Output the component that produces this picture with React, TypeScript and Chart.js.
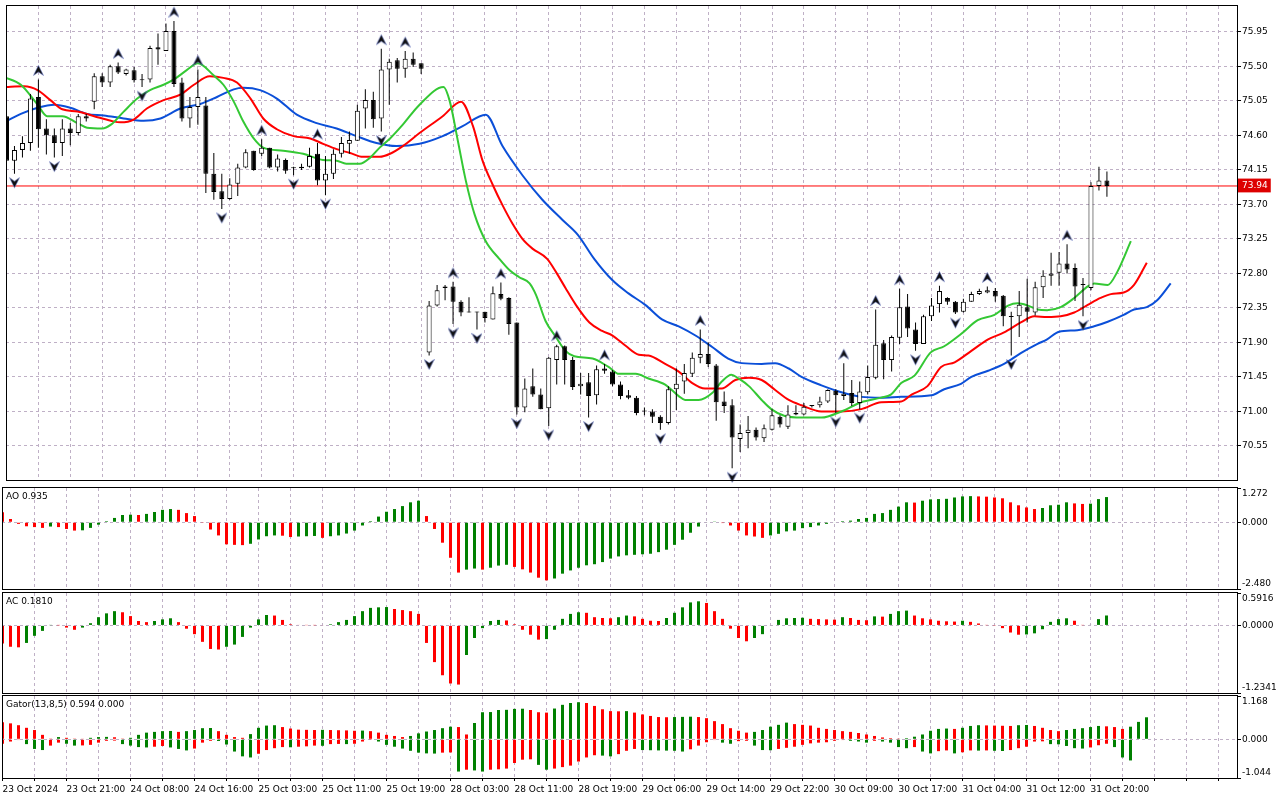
import { useEffect, useRef } from 'react';
import { Chart, registerables } from 'chart.js';

Chart.register(...registerables);

// hourly bars, 23 Oct 2024 13:00 .. 31 Oct 2024 21:00
const opens = [
  74.85, 74.27, 74.41, 74.5, 75.1, 74.69, 74.6, 74.5, 74.69, 74.63,
  74.85, 75.04, 75.37, 75.29, 75.5, 75.4, 75.45, 75.33, 75.33, 75.75,
  75.7, 75.96, 75.29, 74.82, 74.97, 74.99, 74.1, 73.87, 73.77, 73.97,
  74.18, 74.4, 74.36, 74.44, 74.18, 74.28, 74.17, 74.17, 74.19, 74.36,
  74.01, 74.1, 74.36, 74.49, 74.53, 74.95, 75.06, 74.82, 75.46, 75.58,
  75.47, 75.6, 75.54, 71.77, 72.38, 72.61, 72.63, 72.43, 72.29, 72.3,
  72.3, 72.2, 72.53, 72.48, 72.16, 71.05, 71.33, 71.22, 71.04, 71.67,
  71.85, 71.67, 71.33, 71.38, 71.21, 71.56, 71.52, 71.35, 71.21, 71.18,
  71.0, 71.0, 70.93, 70.85, 71.29, 71.39, 71.49, 71.7, 71.75, 71.6,
  71.13, 71.08, 70.64, 70.72, 70.76, 70.65, 70.76, 70.93, 70.8, 70.96,
  70.96, 71.07, 71.08, 71.13, 71.27, 71.2, 71.24, 71.11, 71.25, 71.44,
  71.89, 71.67, 71.96, 72.37, 72.07, 71.88, 72.24, 72.4, 72.48, 72.43,
  72.3, 72.43, 72.53, 72.55, 72.57, 72.51, 72.24, 72.24, 72.36, 72.29,
  72.62, 72.77, 72.81, 72.93, 72.87, 72.65, 72.61, 73.94, 74.01,
];
const highs = [
  74.94, 74.46, 74.59, 75.14, 75.33, 74.81, 74.69, 74.81, 74.76, 74.88,
  74.88, 75.41, 75.41, 75.52, 75.55, 75.47, 75.49, 75.4, 75.77, 75.93,
  76.06, 76.09, 75.35, 75.1, 75.46, 75.1, 74.37, 74.1, 74.04, 74.23,
  74.42, 74.4, 74.55, 74.44, 74.35, 74.3, 74.19, 74.23, 74.44, 74.5,
  74.33, 74.42, 74.58, 74.65, 75.0, 75.2, 75.17, 75.73, 75.6, 75.61,
  75.7, 75.68, 75.54, 72.44, 72.65, 72.65, 72.69, 72.45, 72.49, 72.3,
  72.3, 72.63, 72.68, 72.49, 72.16, 71.43, 71.56, 71.3, 71.71, 71.87,
  71.86, 71.71, 71.5, 71.5, 71.6, 71.62, 71.54, 71.39, 71.28, 71.2,
  71.05, 71.03, 70.95, 71.33, 71.56, 71.62, 71.77, 72.07, 71.9, 71.62,
  71.26, 71.16, 70.83, 70.94, 70.79, 70.83, 71.03, 70.95, 71.08, 71.08,
  71.11, 71.08, 71.19, 71.29, 71.29, 71.63, 71.41, 71.39, 71.6, 72.33,
  71.93, 71.99, 72.6, 72.53, 72.16, 72.26, 72.48, 72.64, 72.49, 72.44,
  72.47, 72.56, 72.6, 72.63, 72.61, 72.52, 72.3, 72.57, 72.73, 72.69,
  72.84, 73.07, 73.08, 73.18, 72.93, 72.74, 73.99, 74.19, 74.13,
];
const lows = [
  74.21, 74.1, 74.31, 74.4, 74.44, 74.35, 74.31, 74.33, 74.47, 74.6,
  74.78, 74.94, 75.23, 75.23, 75.4, 75.38, 75.29, 75.23, 75.29, 75.52,
  75.7, 75.23, 74.78, 74.7, 74.74, 73.85, 73.76, 73.64, 73.76, 73.81,
  74.17, 74.14, 74.33, 74.17, 74.13, 74.1, 74.08, 74.15, 74.18, 73.95,
  73.82, 74.03, 74.31, 74.36, 74.53, 74.69, 74.7, 74.65, 75.0, 75.29,
  75.35, 75.49, 75.4, 71.73, 72.37, 72.45, 72.14, 72.24, 72.29, 72.07,
  72.16, 72.2, 72.45, 72.0, 70.96, 70.99, 71.19, 71.03, 70.81, 71.35,
  71.35, 71.28, 71.22, 70.92, 71.09, 71.49, 71.33, 71.16, 71.16, 70.95,
  70.95, 70.85, 70.76, 70.83, 71.02, 71.23, 71.45, 71.63, 71.58, 70.88,
  70.98, 70.26, 70.47, 70.52, 70.62, 70.6, 70.75, 70.79, 70.77, 70.95,
  70.95, 71.05, 71.05, 71.11, 70.98, 71.15, 71.07, 71.03, 71.22, 71.42,
  71.42, 71.52, 71.88, 71.97, 71.79, 71.88, 72.18, 72.29, 72.39, 72.27,
  72.29, 72.43, 72.52, 72.54, 72.43, 72.11, 71.73, 71.97, 72.16, 72.25,
  72.48, 72.64, 72.64, 72.8, 72.44, 72.24, 72.58, 73.88, 73.8,
];
const closes = [
  74.27, 74.41, 74.5, 75.08, 74.68, 74.6, 74.5, 74.69, 74.63, 74.85,
  74.82, 75.37, 75.29, 75.5, 75.42, 75.46, 75.32, 75.32, 75.74, 75.72,
  75.96, 75.27, 74.82, 74.97, 75.1, 74.1, 73.86, 73.77, 73.96, 74.18,
  74.38, 74.15, 74.44, 74.18, 74.3, 74.14, 74.17, 74.19, 74.33, 74.01,
  74.1, 74.36, 74.5, 74.54, 74.92, 75.06, 74.81, 75.46, 75.56, 75.47,
  75.6, 75.52, 75.47, 72.38, 72.58, 72.63, 72.43, 72.29, 72.29, 72.29,
  72.22, 72.54, 72.47, 72.14, 71.05, 71.3, 71.22, 71.03, 71.7, 71.85,
  71.67, 71.32, 71.36, 71.2, 71.55, 71.53, 71.35, 71.2, 71.18, 70.98,
  71.0, 70.93, 70.85, 71.29, 71.36, 71.5, 71.7, 71.75, 71.62, 71.12,
  71.07, 70.66, 70.72, 70.76, 70.66, 70.78, 70.95, 70.83, 70.96, 70.98,
  71.06, 71.08, 71.13, 71.28, 71.21, 71.23, 71.11, 71.26, 71.45, 71.87,
  71.67, 71.97, 72.36, 72.08, 71.88, 72.24, 72.38, 72.57, 72.43, 72.29,
  72.43, 72.53, 72.57, 72.58, 72.5, 72.24, 72.23, 72.39, 72.3, 72.62,
  72.77, 72.8, 72.93, 72.85, 72.63, 72.65, 73.94, 74.01, 73.94,
];

// Alligator lines: [bar, price]
const jaw: [number, number][] = [
  [-0.3, 74.77], [1.8, 74.88], [3.9, 74.96], [6.0, 75.0], [8.0, 74.96], [10.1, 74.88], [12.2, 74.86],
  [14.7, 74.82], [17.2, 74.79], [19.3, 74.82], [21.8, 74.95], [24.3, 75.01], [26.4, 75.1], [28.5, 75.2],
  [29.7, 75.22], [31.8, 75.19], [33.9, 75.08], [36.4, 74.87], [38.9, 74.76], [41.4, 74.69], [43.9, 74.59],
  [46.4, 74.5], [48.9, 74.46], [51.8, 74.49], [54.7, 74.59], [57.2, 74.72], [60.1, 74.87], [62.2, 74.46],
  [64.7, 74.08], [67.2, 73.76], [69.7, 73.5], [71.6, 73.31], [73.7, 72.99], [76.0, 72.71], [78.0, 72.54],
  [80.1, 72.39], [82.2, 72.2], [84.3, 72.11], [86.4, 71.99], [88.5, 71.84], [90.5, 71.69], [92.2, 71.63],
  [94.7, 71.62], [96.4, 71.63], [98.1, 71.56], [99.7, 71.45], [102.2, 71.34], [104.7, 71.25], [107.2, 71.19],
  [109.7, 71.18], [112.2, 71.19], [116.0, 71.21], [117.6, 71.29], [119.7, 71.36], [121.0, 71.45],
  [123.1, 71.53], [125.1, 71.62], [127.2, 71.76], [129.3, 71.88], [130.5, 71.94], [132.0, 72.04],
  [134.3, 72.06], [136.4, 72.11], [138.1, 72.17], [140.1, 72.26], [141.4, 72.33], [143.0, 72.36],
  [144.3, 72.45], [146.0, 72.67],
];
const teeth: [number, number][] = [
  [-0.3, 75.23], [2.2, 75.24], [3.9, 75.19], [5.5, 75.06], [7.0, 74.94], [8.9, 74.91], [11.0, 74.85],
  [13.1, 74.79], [14.3, 74.77], [16.0, 74.81], [17.6, 74.95], [19.7, 75.06], [21.8, 75.13], [23.5, 75.26],
  [25.5, 75.37], [27.2, 75.35], [28.9, 75.29], [30.6, 75.08], [32.2, 74.82], [33.9, 74.68], [36.0, 74.59],
  [38.1, 74.56], [39.7, 74.49], [41.4, 74.42], [43.1, 74.37], [44.7, 74.32], [46.8, 74.32], [48.1, 74.36],
  [49.7, 74.46], [51.8, 74.63], [54.7, 74.85], [57.0, 75.04], [58.5, 74.72], [59.7, 74.27], [61.0, 73.95],
  [62.2, 73.69], [63.5, 73.44], [64.7, 73.25], [66.0, 73.12], [67.8, 72.99], [68.9, 72.82], [70.1, 72.61],
  [71.4, 72.39], [73.1, 72.16], [74.7, 72.05], [76.0, 71.99], [77.6, 71.86], [79.3, 71.74], [80.5, 71.73],
  [82.6, 71.62], [84.3, 71.52], [86.0, 71.37], [87.6, 71.3], [89.7, 71.3], [91.4, 71.41], [93.1, 71.44],
  [94.7, 71.41], [96.4, 71.28], [98.1, 71.15], [99.7, 71.08], [102.2, 71.0], [104.7, 71.0], [107.2, 71.03],
  [109.7, 71.12], [112.2, 71.13], [113.5, 71.22], [115.5, 71.33], [117.2, 71.58], [118.9, 71.64],
  [121.0, 71.79], [123.1, 71.94], [125.1, 72.03], [127.2, 72.16], [128.9, 72.24], [130.5, 72.23],
  [132.2, 72.24], [133.9, 72.29], [135.6, 72.39], [137.2, 72.48], [138.5, 72.53], [140.1, 72.55],
  [141.4, 72.65], [143.0, 72.94],
];
const lips: [number, number][] = [
  [-0.3, 75.36], [1.8, 75.26], [3.9, 75.0], [5.1, 74.85], [7.0, 74.85], [8.9, 74.76], [10.1, 74.7],
  [12.0, 74.69], [13.1, 74.74], [14.7, 74.91], [16.4, 75.08], [18.0, 75.19], [19.7, 75.26], [21.0, 75.33],
  [22.6, 75.45], [24.0, 75.54], [26.0, 75.38], [27.2, 75.26], [28.5, 75.04], [29.7, 74.78], [31.0, 74.56],
  [32.2, 74.44], [34.7, 74.4], [37.2, 74.36], [39.7, 74.28], [41.4, 74.27], [42.6, 74.23], [44.3, 74.23],
  [45.6, 74.31], [46.8, 74.44], [48.1, 74.56], [49.7, 74.74], [51.8, 75.0], [54.8, 75.23], [55.6, 75.04],
  [56.6, 74.53], [57.6, 74.01], [58.7, 73.57], [60.1, 73.22], [61.8, 72.99], [63.1, 72.84], [64.3, 72.75],
  [65.6, 72.67], [66.4, 72.52], [67.6, 72.18], [68.9, 71.97], [70.1, 71.79], [71.2, 71.72], [73.5, 71.69],
  [75.5, 71.58], [76.8, 71.49], [78.9, 71.49], [80.5, 71.43], [82.6, 71.35], [84.3, 71.2], [85.1, 71.15],
  [86.8, 71.15], [88.5, 71.24], [89.7, 71.39], [90.9, 71.48], [91.8, 71.43], [93.1, 71.33], [94.7, 71.15],
  [95.9, 71.03], [97.6, 70.94], [99.7, 70.92], [102.2, 70.92], [104.7, 71.0], [107.2, 71.12], [109.7, 71.18],
  [110.9, 71.22], [112.2, 71.37], [113.9, 71.47], [115.9, 71.77], [117.6, 71.85], [119.7, 72.01],
  [121.8, 72.19], [123.9, 72.26], [125.6, 72.38], [126.8, 72.41], [128.1, 72.38], [129.3, 72.33],
  [130.5, 72.32], [132.2, 72.36], [133.9, 72.48], [135.6, 72.63], [136.4, 72.67], [138.1, 72.65],
  [139.3, 72.82], [141.0, 73.22],
];

// Bill Williams fractals (bar indexes)
const fractalUp = [4, 14, 21, 24, 32, 39, 47, 50, 56, 62, 69, 75, 87, 105, 109, 112, 117, 123, 133];
const fractalDown = [1, 6, 17, 27, 36, 40, 47, 53, 56, 59, 64, 68, 73, 82, 91, 104, 107, 114, 119, 126, 135];

const ao = [
  0.37, 0.12, -0.06, -0.15, -0.18, -0.21, -0.16, -0.18, -0.25, -0.31,
  -0.3, -0.21, -0.09, 0.04, 0.16, 0.27, 0.28, 0.27, 0.31, 0.38,
  0.46, 0.49, 0.46, 0.34, 0.23, -0.01, -0.27, -0.49, -0.82, -0.84,
  -0.85, -0.8, -0.64, -0.52, -0.49, -0.5, -0.55, -0.53, -0.52, -0.51,
  -0.58, -0.52, -0.49, -0.42, -0.31, -0.12, 0.04, 0.21, 0.39, 0.49,
  0.6, 0.74, 0.8, 0.23, -0.25, -0.76, -1.32, -1.87, -1.76, -1.72,
  -1.76, -1.69, -1.61, -1.58, -1.66, -1.75, -1.87, -2.06, -2.16, -2.09,
  -1.91, -1.79, -1.69, -1.6, -1.56, -1.48, -1.35, -1.27, -1.23, -1.21,
  -1.19, -1.17, -1.11, -1.02, -0.84, -0.65, -0.39, -0.16, -0.02, 0.01,
  -0.03, -0.12, -0.31, -0.49, -0.53, -0.58, -0.49, -0.43, -0.34, -0.31,
  -0.22, -0.18, -0.12, -0.06, -0.02, 0.04, 0.06, 0.12, 0.16, 0.31,
  0.34, 0.46, 0.58, 0.74, 0.73, 0.8, 0.85, 0.86, 0.87, 0.92,
  0.96, 0.97, 0.96, 0.95, 0.92, 0.89, 0.74, 0.63, 0.55, 0.49,
  0.53, 0.63, 0.65, 0.74, 0.7, 0.68, 0.69, 0.86, 0.935,
];
const ac = [
  -0.33, -0.39, -0.4, -0.32, -0.19, -0.1, 0.005, 0.003, -0.04, -0.08,
  -0.04, 0.04, 0.15, 0.22, 0.26, 0.24, 0.17, 0.08, 0.06, 0.08,
  0.11, 0.13, 0.06, -0.06, -0.16, -0.3, -0.43, -0.44, -0.39, -0.35,
  -0.21, -0.04, 0.11, 0.19, 0.18, 0.1, 0.02, 0.01, 0.005, 0.004,
  -0.01, 0.02, 0.06, 0.1, 0.17, 0.26, 0.32, 0.33, 0.335, 0.3,
  0.28, 0.26, 0.21, -0.32, -0.67, -0.91, -1.06, -1.08, -0.54, -0.23,
  -0.05, 0.08, 0.1, 0.09, 0.02, -0.08, -0.17, -0.26, -0.25, -0.08,
  0.12, 0.21, 0.24, 0.23, 0.15, 0.135, 0.13, 0.15, 0.18, 0.165,
  0.12, 0.085, 0.08, 0.135, 0.23, 0.33, 0.42, 0.44, 0.41, 0.26,
  0.12, -0.06, -0.23, -0.29, -0.23, -0.16, -0.01, 0.1, 0.13, 0.135,
  0.14, 0.12, 0.115, 0.11, 0.105, 0.15, 0.135, 0.1, 0.095, 0.165,
  0.16, 0.21, 0.26, 0.27, 0.18, 0.13, 0.11, 0.085, 0.075, 0.07,
  0.085, 0.065, 0.035, 0.005, -0.005, -0.05, -0.13, -0.17, -0.165, -0.145,
  -0.07, 0.065, 0.115, 0.13, 0.085, 0.005, 0.01, 0.115, 0.181,
];
const gatorUpper = [
  0.46, 0.43, 0.38, 0.31, 0.25, 0.12, 0.02, 0.06, 0.04, 0.02,
  0.01, 0.04, 0.06, 0.065, 0.055, 0.02, 0.04, 0.12, 0.18, 0.2,
  0.22, 0.225, 0.2, 0.22, 0.25, 0.3, 0.305, 0.22, 0.12, 0.06,
  0.04, 0.14, 0.31, 0.37, 0.38, 0.33, 0.29, 0.26, 0.255, 0.25,
  0.255, 0.25, 0.245, 0.24, 0.23, 0.235, 0.22, 0.18, 0.12, 0.09,
  0.06, 0.09, 0.16, 0.21, 0.25, 0.3, 0.34, 0.33, 0.13, 0.44,
  0.73, 0.735, 0.79, 0.795, 0.82, 0.825, 0.79, 0.73, 0.72, 0.83,
  0.93, 0.98, 1.0, 0.98, 0.9, 0.81, 0.76, 0.755, 0.76, 0.72,
  0.67, 0.63, 0.6, 0.595, 0.6, 0.605, 0.61, 0.6, 0.57, 0.49,
  0.41, 0.3, 0.23, 0.18, 0.2, 0.25, 0.34, 0.39, 0.45, 0.41,
  0.39, 0.37, 0.31, 0.28, 0.25, 0.22, 0.2, 0.17, 0.13, 0.09,
  0.05, 0.03, 0.005, 0.03, 0.07, 0.13, 0.23, 0.28, 0.29, 0.28,
  0.31, 0.36, 0.38, 0.375, 0.37, 0.365, 0.36, 0.38, 0.385, 0.36,
  0.31, 0.25, 0.22, 0.25, 0.28, 0.3, 0.33, 0.36, 0.35, 0.33,
  0.28, 0.34, 0.47, 0.594,
];
const gatorLower = [
  0.12, 0.06, 0.02, 0.13, 0.26, 0.29, 0.17, 0.09, 0.12, 0.17,
  0.165, 0.15, 0.09, 0.04, 0.035, 0.13, 0.17, 0.21, 0.22, 0.2,
  0.18, 0.22, 0.26, 0.3, 0.25, 0.09, 0.04, 0.045, 0.14, 0.33,
  0.46, 0.49, 0.39, 0.29, 0.24, 0.21, 0.215, 0.2, 0.19, 0.17,
  0.175, 0.13, 0.125, 0.13, 0.12, 0.06, 0.005, 0.06, 0.15, 0.2,
  0.25, 0.31, 0.36, 0.38, 0.385, 0.36, 0.355, 0.87, 0.82, 0.84,
  0.87, 0.82, 0.81, 0.79, 0.64, 0.55, 0.54, 0.69, 0.82, 0.79,
  0.75, 0.71, 0.6, 0.49, 0.43, 0.44, 0.46, 0.4, 0.31, 0.26,
  0.29, 0.295, 0.3, 0.305, 0.31, 0.33, 0.27, 0.17, 0.08, 0.02,
  0.09, 0.12, 0.05, 0.04, 0.17, 0.29, 0.295, 0.26, 0.23, 0.2,
  0.15, 0.11, 0.09, 0.08, 0.04, 0.02, 0.04, 0.06, 0.09, 0.04,
  0.06, 0.09, 0.21, 0.24, 0.21, 0.33, 0.38, 0.32, 0.3, 0.38,
  0.35, 0.3, 0.305, 0.3, 0.31, 0.315, 0.29, 0.24, 0.2, 0.06,
  0.055, 0.13, 0.135, 0.18, 0.24, 0.25, 0.22, 0.16, 0.12, 0.21,
  0.49, 0.57,
];

const priceTicks = [70.55, 71.0, 71.45, 71.9, 72.35, 72.8, 73.25, 73.7, 74.15, 74.6, 75.05, 75.5, 75.95];
const priceRange = [70.106, 76.287];
const aoRange = [-2.48, 1.272];
const acRange = [-1.2341, 0.5916];
const gatorRange = [-1.044, 1.168];
const timeLabels = [
  '23 Oct 2024', '23 Oct 21:00', '24 Oct 08:00', '24 Oct 16:00', '25 Oct 03:00', '25 Oct 11:00',
  '25 Oct 19:00', '28 Oct 03:00', '28 Oct 11:00', '28 Oct 19:00', '29 Oct 06:00', '29 Oct 14:00',
  '29 Oct 22:00', '30 Oct 09:00', '30 Oct 17:00', '31 Oct 04:00', '31 Oct 12:00', '31 Oct 20:00',
];

const FONT = { family: 'DejaVu Sans', size: 9 };
const GRID = '#bfb0c6';
const UP = '#008000';
const DOWN = '#ff0000';
const X_MIN = -0.0625;
const X_MAX = X_MIN + 1235 / 8;
const lastClose = closes[closes.length - 1];

function barColors(vals: number[]) {
  return vals.map((v, i) => (i > 0 && Math.abs(v) > Math.abs(vals[i - 1]) ? UP : DOWN));
}
function signedColors(vals: number[]) {
  return vals.map((v, i) => (i > 0 && v > vals[i - 1] ? UP : DOWN));
}

function xAxis(withLabels: boolean) {
  return {
    type: 'linear',
    min: X_MIN,
    max: X_MAX,
    offset: false,
    bounds: 'data',
    afterBuildTicks: (s: any) => {
      const t = [];
      for (let v = 0; v <= X_MAX; v += 4) t.push({ value: v });
      s.ticks = t;
    },
    afterFit: (s: any) => {
      s.height = withLabels ? 22 : 0;
      s.paddingLeft = 0;
      s.paddingRight = 0;
    },
    grid: {
      offset: false,
      color: (c: any) => (c.tick && c.tick.value > 0 ? GRID : 'transparent'),
      drawTicks: withLabels,
      tickLength: 3,
      tickColor: '#000',
      tickBorderDash: [],
    },
    border: { display: false, dash: [3, 3] },
    ticks: {
      display: withLabels,
      autoSkip: false,
      maxRotation: 0,
      minRotation: 0,
      align: 'start',
      padding: 3,
      color: '#000',
      font: FONT,
      callback: (v: number) => (v % 8 === 0 && timeLabels[v / 8]) || '',
    },
  };
}

function yAxis(range: number[], ticks: number[], label: (v: number) => string | string[], gridAt: (v: number) => boolean, extraTicks: any = {}) {
  return {
    type: 'linear',
    position: 'right',
    min: range[0],
    max: range[1],
    bounds: 'data',
    afterBuildTicks: (s: any) => {
      s.ticks = ticks.map((v) => ({ value: v }));
    },
    afterFit: (s: any) => {
      s.width = 43;
      s.paddingTop = 0;
      s.paddingBottom = 0;
    },
    grid: {
      color: (c: any) => (c.tick && gridAt(c.tick.value) ? GRID : 'transparent'),
      tickLength: 4,
      tickColor: '#000',
      tickBorderDash: [],
    },
    border: { display: false, dash: [3, 3] },
    ticks: { autoSkip: false, padding: 1, font: FONT, color: '#000', callback: (v: number) => label(v), ...extraTicks },
  };
}

const framePlugin = {
  id: 'frame',
  afterDraw(chart: any) {
    const { ctx, chartArea: a } = chart;
    ctx.save();
    ctx.strokeStyle = '#000';
    ctx.lineWidth = 1;
    ctx.strokeRect(a.left + 0.5, a.top - 0.5, a.right - a.left, a.bottom - a.top + 1);
    ctx.restore();
  },
};

function titlePlugin(text: string) {
  return {
    id: 'panelTitle',
    afterDraw(chart: any) {
      const { ctx, chartArea: a } = chart;
      ctx.save();
      ctx.fillStyle = '#000';
      ctx.font = `${FONT.size}px "${FONT.family}"`;
      ctx.textBaseline = 'middle';
      ctx.fillText(text, a.left + 4, a.top + 8.5);
      ctx.restore();
    },
  };
}

// fractal arrowhead, drawn 4px clear of the bar's high (up) or low (down)
function arrowImage(up: boolean) {
  const c = document.createElement('canvas');
  c.width = 11;
  c.height = 31;
  const g = c.getContext('2d')!;
  const tip = up ? 1.5 : 29.5;
  const base = up ? 11.5 : 19.5;
  const notch = up ? 8 : 23;
  g.beginPath();
  g.moveTo(5.5, tip);
  g.lineTo(10.5, base);
  g.lineTo(5.5, notch);
  g.lineTo(0.5, base);
  g.closePath();
  g.fillStyle = '#101010';
  g.fill();
  g.strokeStyle = 'rgba(90,110,200,0.75)';
  g.lineWidth = 0.7;
  g.stroke();
  return c;
}

function baseOptions(y: any, withLabels: boolean, padTop: number, padBottom: number) {
  return {
    responsive: false,
    animation: false,
    events: [],
    layout: { padding: { top: padTop, bottom: padBottom, left: 2, right: 0 } },
    plugins: { legend: { display: false }, tooltip: { enabled: false } },
    scales: { x: xAxis(withLabels), y },
  };
}

function histogram(vals: number[], colors: string[]) {
  return {
    type: 'bar',
    data: vals.map((v, i) => ({ x: i, y: v })),
    backgroundColor: colors,
    barThickness: 3,
    grouped: false,
    inflateAmount: 0,
    borderWidth: 0,
  };
}

export default function App() {
  const mainRef = useRef<HTMLCanvasElement | null>(null);
  const aoRef = useRef<HTMLCanvasElement | null>(null);
  const acRef = useRef<HTMLCanvasElement | null>(null);
  const gatorRef = useRef<HTMLCanvasElement | null>(null);

  useEffect(() => {
    if (!mainRef.current || !aoRef.current || !acRef.current || !gatorRef.current) return;
    const idx = closes.map((_, i) => i);
    const pts = (p: [number, number][]) => p.map(([x, y]) => ({ x, y }));
    const line = (p: [number, number][], color: string, order: number) => ({
      type: 'line',
      data: pts(p),
      borderColor: color,
      borderWidth: 2,
      pointRadius: 0,
      cubicInterpolationMode: 'monotone',
      order,
    });

    const main = new Chart(mainRef.current, {
      type: 'bar',
      data: {
        datasets: [
          {
            type: 'line',
            data: [{ x: X_MIN, y: lastClose }, { x: X_MAX, y: lastClose }],
            borderColor: '#ff0000',
            borderWidth: 1,
            pointRadius: 0,
            order: 12,
          },
          line(jaw, '#0b4fd8', 11),
          line(teeth, '#ff0000', 10),
          line(lips, '#34c834', 9),
          {
            type: 'bar',
            data: idx.map((i) => ({ x: i, y: [lows[i], highs[i]] })),
            backgroundColor: '#000',
            barThickness: 1,
            grouped: false,
            inflateAmount: 0,
            order: 4,
          },
          {
            type: 'bar',
            data: idx.map((i) => {
              const lo = Math.min(opens[i], closes[i]);
              const hi = Math.max(opens[i], closes[i]);
              return { x: i, y: [lo, Math.max(hi, lo + 0.013)] };
            }),
            backgroundColor: idx.map((i) => (closes[i] > opens[i] ? '#fff' : '#000')),
            borderColor: '#000',
            borderWidth: 1,
            borderSkipped: false,
            barThickness: 5,
            grouped: false,
            inflateAmount: 0,
            order: 3,
          },
          {
            type: 'line',
            data: fractalUp.map((i) => ({ x: i, y: highs[i] })),
            showLine: false,
            pointStyle: arrowImage(true),
            pointRadius: 5,
            clip: false,
            order: 1,
          },
          {
            type: 'line',
            data: fractalDown.map((i) => ({ x: i, y: lows[i] })),
            showLine: false,
            pointStyle: arrowImage(false),
            pointRadius: 5,
            clip: false,
            order: 1,
          },
        ],
      } as any,
      options: baseOptions(
        yAxis(
          priceRange,
          [...priceTicks, lastClose].sort((a, b) => a - b),
          (v) => v.toFixed(2),
          (v) => v !== lastClose,
          {
            color: (c: any) => (c.tick && c.tick.value === lastClose ? '#fff' : '#000'),
            showLabelBackdrop: (c: any) => !!c.tick && c.tick.value === lastClose,
            backdropColor: '#dd0000',
            backdropPadding: { top: 2, bottom: 1, left: 4, right: 3 },
          },
        ),
        false,
        3,
        1,
      ) as any,
      plugins: [framePlugin],
    });

    const aoChart = new Chart(aoRef.current, {
      type: 'bar',
      data: { datasets: [histogram(ao, signedColors(ao))] } as any,
      options: baseOptions(
        yAxis(aoRange, [aoRange[0], 0, aoRange[1]], (v) =>
          v === aoRange[1] ? ['', v.toFixed(3)] : v === aoRange[0] ? [v.toFixed(3), ''] : v.toFixed(3),
          (v) => v === 0),
        false,
        2,
        2,
      ) as any,
      plugins: [framePlugin, titlePlugin(`AO ${ao[ao.length - 1].toFixed(3)}`)],
    });

    const acChart = new Chart(acRef.current, {
      type: 'bar',
      data: { datasets: [histogram(ac, signedColors(ac))] } as any,
      options: baseOptions(
        yAxis(acRange, [acRange[0], 0, acRange[1]], (v) =>
          v === acRange[1] ? ['', v.toFixed(4)] : v === acRange[0] ? [v.toFixed(4), ''] : v.toFixed(4),
          (v) => v === 0),
        false,
        2,
        2,
      ) as any,
      plugins: [framePlugin, titlePlugin(`AC ${ac[ac.length - 1].toFixed(4)}`)],
    });

    const gatorChart = new Chart(gatorRef.current, {
      type: 'bar',
      data: {
        datasets: [
          histogram(gatorUpper, barColors(gatorUpper)),
          histogram(gatorLower.map((v) => -v), barColors(gatorLower)),
        ],
      } as any,
      options: baseOptions(
        yAxis(gatorRange, [gatorRange[0], 0, gatorRange[1]], (v) =>
          v === gatorRange[1] ? ['', v.toFixed(3)] : v === gatorRange[0] ? [v.toFixed(3), ''] : v.toFixed(3),
          (v) => v === 0),
        true,
        2,
        0,
      ) as any,
      plugins: [framePlugin, titlePlugin(`Gator(13,8,5) ${gatorUpper[gatorUpper.length - 1].toFixed(3)} 0.000`)],
    });

    return () => {
      main.destroy();
      aoChart.destroy();
      acChart.destroy();
      gatorChart.destroy();
    };
  }, []);

  const abs = (top: number): React.CSSProperties => ({ position: 'absolute', left: 0, top, display: 'block' });
  return (
    <div style={{ position: 'fixed', left: 0, top: 0, width: 1280, height: 800, background: '#fff' }}>
      <canvas ref={mainRef} width={1280} height={486} style={abs(0)} />
      <canvas ref={aoRef} width={1280} height={105} style={abs(486)} />
      <canvas ref={acRef} width={1280} height={104} style={abs(591)} />
      <canvas ref={gatorRef} width={1280} height={106} style={abs(694)} />
    </div>
  );
}
